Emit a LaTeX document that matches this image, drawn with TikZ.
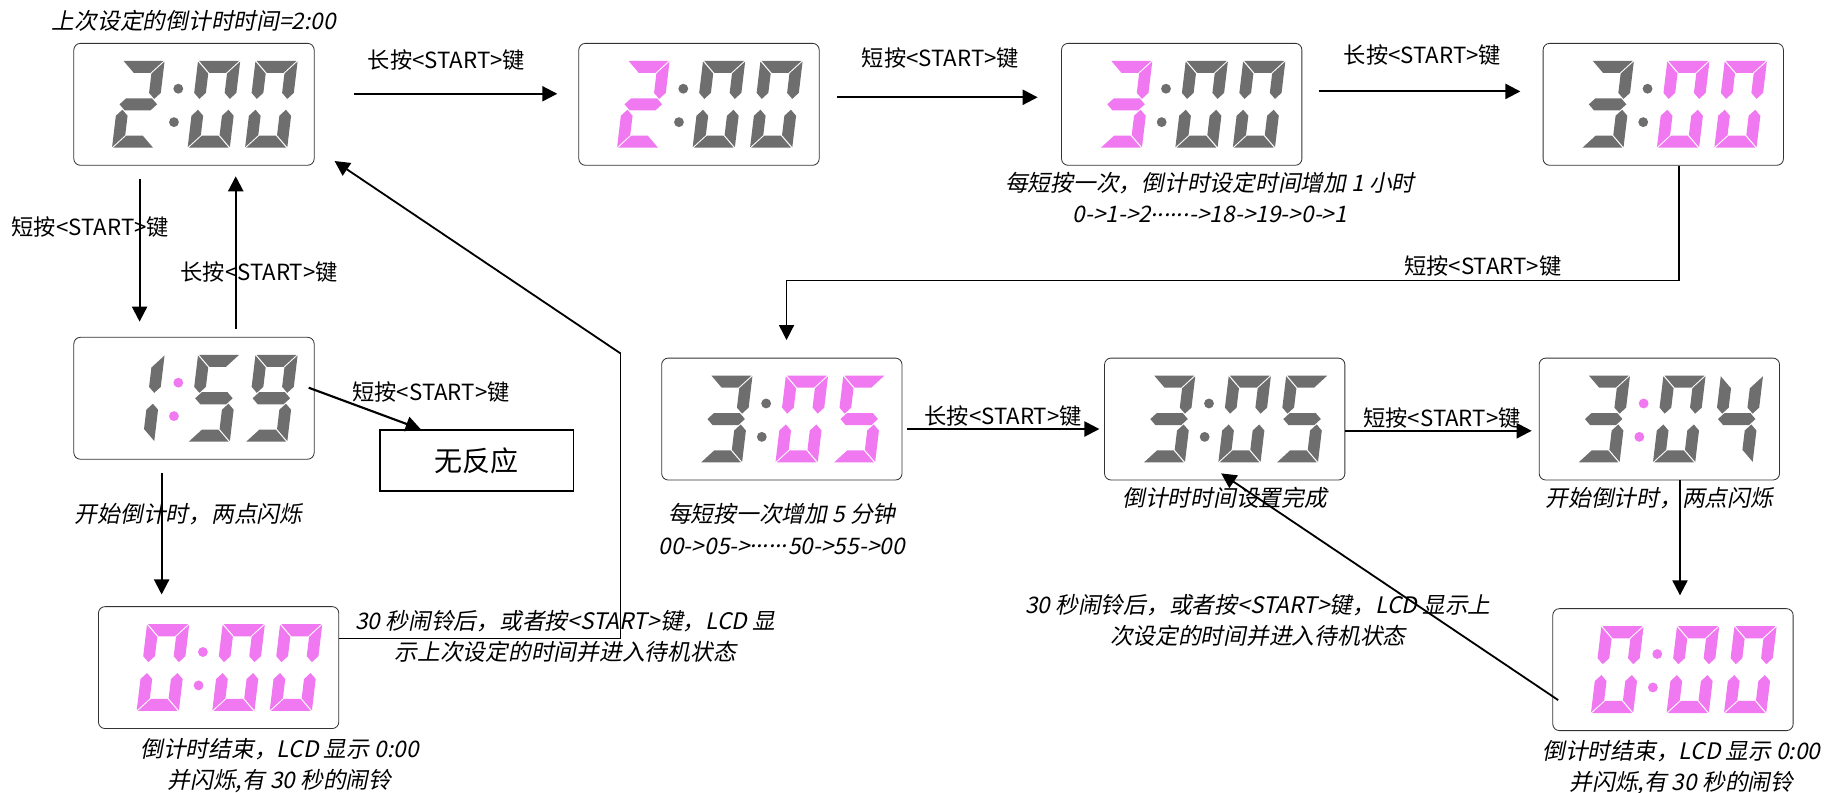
\documentclass[tikz,border=0pt]{standalone}
\usepackage{fontspec}
\usepackage{tikz}
\usetikzlibrary{positioning,calc,arrows.meta}
\newfontfamily\cjk{Noto Sans CJK SC}
\newfontfamily\cjkit[FakeSlant=0.2]{Noto Sans CJK SC}
\definecolor{lcdgrey}{RGB}{110,110,110}
\definecolor{lcdpink}{RGB}{240,120,240}
\newcommand{\middots}{\raisebox{0.3em}{......}}

% the seven segments of one digit
\newcommand{\sega}{(-17,36) -- (17,36) -- (7,26) -- (-7,26) -- cycle}
\newcommand{\segb}{(18,35.5) -- (8,25.5) -- (8,9.5) -- (13,4.5) -- (18,9.5) -- cycle}
\newcommand{\segc}{(18,-35.5) -- (8,-25.5) -- (8,-9.5) -- (13,-4.5) -- (18,-9.5) -- cycle}
\newcommand{\segd}{(-17,-36) -- (17,-36) -- (7,-26) -- (-7,-26) -- cycle}
\newcommand{\sege}{(-18,-35.5) -- (-8,-25.5) -- (-8,-9.5) -- (-13,-4.5) -- (-18,-9.5) -- cycle}
\newcommand{\segf}{(-18,35.5) -- (-8,25.5) -- (-8,9.5) -- (-13,4.5) -- (-18,9.5) -- cycle}
\newcommand{\segg}{(-16,0) -- (-11,5) -- (11,5) -- (16,0) -- (11,-5) -- (-11,-5) -- cycle}
\newcommand{\digzero}{a,b,c,d,e,f}
\newcommand{\digone}{b,c}
\newcommand{\digtwo}{a,b,g,e,d}
\newcommand{\digthree}{a,b,g,c,d}
\newcommand{\digfour}{f,g,b,c}
\newcommand{\digfive}{a,f,g,c,d}
\newcommand{\dignine}{a,b,c,d,f,g}
% one digit: box, offset, segments, colour
\newcommand{\lcddigit}[4]{%
  \begin{scope}[shift={($(#1)+(#2,0)$)}, x=0.025cm, y=0.0257cm, xslant=0.12]
    \foreach \s in #3 {\fill[#4] \csname seg\s\endcsname;}
  \end{scope}}
% h:mm in a box
\newcommand{\lcdshow}[8]{%
  \lcddigit{#1}{-47.5}{#2}{#3}
  \lcddigit{#1}{17}{#4}{#5}
  \lcddigit{#1}{66}{#6}{#7}
  \fill[#8] ($(#1)+(-13.4,-13.3)$) circle (0.105cm);
  \fill[#8] ($(#1)+(-17.1,15.2)$) circle (0.105cm);}

\tikzset{
  lcd/.style={rectangle, rounded corners=4pt, draw=black!80, line width=0.5pt, minimum width=5.125cm, minimum height=2.6cm},
  nr/.style={rectangle, draw=black, line width=0.9pt, minimum width=4.125cm, minimum height=1.3cm, font=\cjk\fontsize{17}{20}\selectfont},
  lab/.style={font=\cjk\fontsize{13.5}{18}\selectfont, inner sep=1pt},
  capt/.style={font=\cjkit\fontsize{13.8}{19}\selectfont, align=center, inner sep=1pt},
  arr/.style={line width=1.3pt, -{Triangle[length=0.32cm,width=0.32cm]}},
  wire/.style={line width=0.9pt}
}

\begin{document}
\begin{tikzpicture}[x=0.025cm, y=-0.025cm]
	\useasboundingbox (0,0) rectangle (1568,676);
	\node[lcd] (idle) at (165.5,89) {};
	\node[lcd, right=5.625cm of idle] (hsel) {};
	\node[lcd, right=5.15cm of hsel] (hinc) {};
	\node[lcd, right=5.125cm of hinc] (msel) {};
	\node[lcd] (minc) at (667,357.5) {};
	\node[lcd, right=4.3cm of minc] (done) {};
	\node[lcd, right=4.125cm of done] (cntB) {};
	\node[lcd, below=2.725cm of cntB, xshift=0.29cm] (endB) {};
	\node[lcd, below=3.65cm of idle] (cntA) {};
	\node[lcd, below=3.125cm of cntA, xshift=0.525cm] (endA) {};
	\node[nr, right=1.375cm of cntA, yshift=-1.325cm] (noresp) {无反应};
	%
	\lcdshow{idle}{\digtwo}{lcdgrey}{\digzero}{lcdgrey}{\digzero}{lcdgrey}{lcdgrey}
	\lcdshow{hsel}{\digtwo}{lcdpink}{\digzero}{lcdgrey}{\digzero}{lcdgrey}{lcdgrey}
	\lcdshow{hinc}{\digthree}{lcdpink}{\digzero}{lcdgrey}{\digzero}{lcdgrey}{lcdgrey}
	\lcdshow{msel}{\digthree}{lcdgrey}{\digzero}{lcdpink}{\digzero}{lcdpink}{lcdgrey}
	\lcdshow{minc}{\digthree}{lcdgrey}{\digzero}{lcdpink}{\digfive}{lcdpink}{lcdgrey}
	\lcdshow{done}{\digthree}{lcdgrey}{\digzero}{lcdgrey}{\digfive}{lcdgrey}{lcdgrey}
	\lcdshow{cntB}{\digthree}{lcdgrey}{\digzero}{lcdgrey}{\digfour}{lcdgrey}{lcdpink}
	\lcdshow{endB}{\digzero}{lcdpink}{\digzero}{lcdpink}{\digzero}{lcdpink}{lcdpink}
	\lcdshow{cntA}{\digone}{lcdgrey}{\digfive}{lcdgrey}{\dignine}{lcdgrey}{lcdpink}
	\lcdshow{endA}{\digzero}{lcdpink}{\digzero}{lcdpink}{\digzero}{lcdpink}{lcdpink}
	%
	\node[capt, above=0.2cm of idle] (idlecap) {上次设定的倒计时时间=2:00};
	\node[capt, below=0.1cm of hinc, xshift=0.6cm] (hinccap) {每短按一次，倒计时设定时间增加 1 小时\\0->1->2\middots->18->19->0->1};
	\node[capt, below=0.45cm of minc] (minccap) {每短按一次增加 5 分钟\\00->05->\middots50->55->00};
	\node[capt, below=0.1cm of done] (donecap) {倒计时时间设置完成};
	\node[capt, below=0.1cm of cntB] (cntBcap) {开始倒计时，两点闪烁};
	\node[capt, below=0.15cm of endB, xshift=0.18cm] (endBcap) {倒计时结束，LCD 显示 0:00\\并闪烁,有 30 秒的闹铃};
	\node[capt, below=0.15cm of endA, xshift=1.3cm] (endAcap) {倒计时结束，LCD 显示 0:00\\并闪烁,有 30 秒的闹铃};
	\node[capt, left=1.275cm of endB, yshift=1.05cm] (endBnote) {30 秒闹铃后，或者按<START>键，LCD 显示上\\次设定的时间并进入待机状态};
	\node[capt, right=0.3cm of endA, yshift=0.66cm] (endAnote) {30 秒闹铃后，或者按<START>键，LCD 显\\示上次设定的时间并进入待机状态};
	%
	\draw[arr, shorten <=0.85cm, shorten >=0.45cm] ([yshift=0.225cm]idle.east) -- node[lab, above=0.45cm] (l1) {长按<START>键} ([yshift=0.225cm]idle.east -| hsel.west);
	\draw[arr, shorten <=0.375cm, shorten >=0.5cm] ([yshift=0.15cm]hsel.east) -- node[lab, above=0.55cm] (l2) {短按<START>键} ([yshift=0.15cm]hsel.east -| hinc.west);
	\draw[arr, shorten <=0.35cm, shorten >=0.475cm] ([yshift=0.275cm]hinc.east) -- node[lab, above=0.5cm] (l3) {长按<START>键} ([yshift=0.275cm]hinc.east -| msel.west);
	\draw[arr, wire, shorten >=0.375cm] ([xshift=0.34cm]msel.south) -- ++(0,98) -| node[lab, pos=0.11, above=1pt] (l4) {短按<START>键} ([xshift=0.1cm]minc.north);
	\draw[arr, shorten <=0.1cm, shorten >=0.1cm] ([yshift=-0.2125cm]minc.east) -- node[lab, above=0pt] (l5) {长按<START>键} ([yshift=-0.2125cm]minc.east -| done.west);
	\draw[arr, shorten >=0.15cm] ([yshift=-0.25cm]done.east) -- node[lab, above=0pt] (l6) {短按<START>键} ([yshift=-0.25cm]done.east -| cntB.west);
	\draw[arr, shorten >=0.275cm] ([xshift=0.44cm]cntB.south) -- ([xshift=0.44cm]cntB.south |- endB.north);
	\draw[arr, line width=1.1pt] ([xshift=0.125cm, yshift=-0.65cm]endB.west) -- ([xshift=-0.075cm, yshift=0.15cm]done.south);
	%
	\draw[arr, shorten <=0.275cm, shorten >=0.325cm] ([xshift=-1.16cm]idle.south) -- node[lab, pos=0.36, xshift=-1.05cm] (l7) {短按<START>键} ([xshift=-1.16cm]idle.south |- cntA.north);
	\draw[arr, shorten <=0.175cm, shorten >=0.225cm] ([xshift=0.89cm]cntA.north) -- node[lab, pos=0.38, xshift=0.5cm] (l8) {长按<START>键} ([xshift=0.89cm]cntA.north |- idle.south);
	\draw[arr] ([xshift=-0.125cm, yshift=0.225cm]cntA.east) -- node[lab, pos=0.38, anchor=south west, inner sep=0pt] (l9) {短按<START>键} ([xshift=-1.19cm]noresp.north);
	\draw[arr, shorten <=0.275cm, shorten >=0.25cm] ([xshift=-0.69cm]cntA.south) -- node[capt, pos=0.37, xshift=0.575cm] (l10) {开始倒计时，两点闪烁} ([xshift=-0.69cm]cntA.south |- endA.north);
	\draw[wire] ([yshift=0.625cm]endA.east) -- ++(240,0) -- ++(0,-243) coordinate (back);
	\draw[arr, line width=1.1pt] (back) -- ([xshift=0.425cm, yshift=0.1cm]idle.south east);
\end{tikzpicture}
\end{document}
